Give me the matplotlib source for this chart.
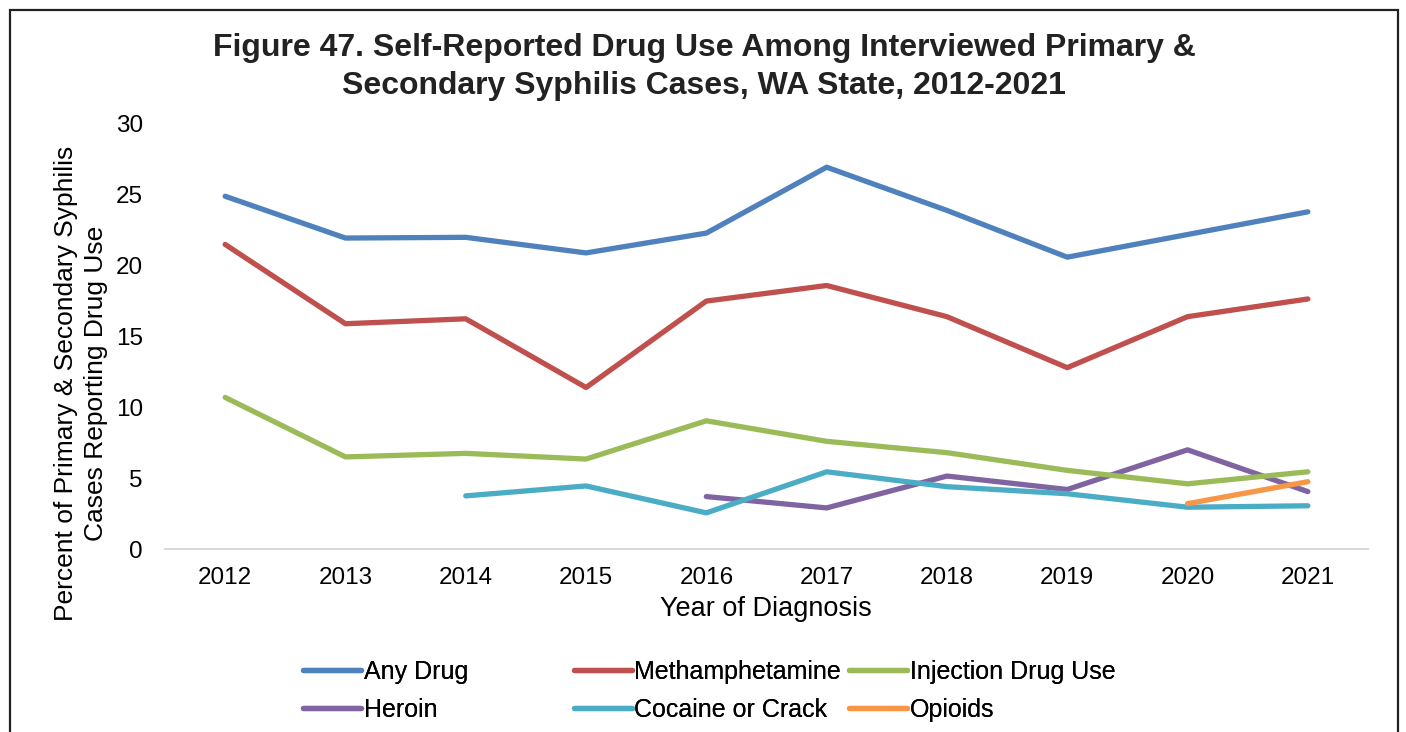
import matplotlib
matplotlib.use("Agg")
import matplotlib.pyplot as plt
from matplotlib.patches import Rectangle

plt.rcParams["font.family"] = ["Liberation Sans", "DejaVu Sans"]

# --- Data ---
years = ["2012", "2013", "2014", "2015", "2016", "2017", "2018", "2019", "2020", "2021"]
any_drug = [24.9, 21.95, 22.0, 20.9, 22.3, 26.95, 23.9, 20.6, 22.2, 23.8]
meth = [21.5, 15.9, 16.25, 11.4, 17.5, 18.6, 16.4, 12.8, 16.4, 17.65]
injection = [10.7, 6.5, 6.75, 6.35, 9.05, 7.6, 6.8, 5.55, 4.6, 5.45]
heroin = [None, None, None, None, 3.7, 2.9, 5.15, 4.2, 7.0, 4.05]
cocaine = [None, None, 3.75, 4.45, 2.55, 5.45, 4.4, 3.9, 2.95, 3.05]
opioids = [None, None, None, None, None, None, None, None, 3.2, 4.75]

series = [
    ("Any Drug", any_drug, "#4F81BD"),
    ("Heroin", heroin, "#8064A2"),
    ("Methamphetamine", meth, "#C0504D"),
    ("Cocaine or Crack", cocaine, "#4BACC6"),
    ("Injection Drug Use", injection, "#9BBB59"),
    ("Opioids", opioids, "#F79646"),
]

W, H = 1406, 732
fig = plt.figure(figsize=(W / 100, H / 100), dpi=100)
ax = fig.add_axes([165 / W, 1 - 549 / H, (1368 - 165) / W, (549 - 124) / H])

handles = {}
for name, vals, col in series:
    xs = [i for i, v in enumerate(vals) if v is not None]
    ys = [v for v in vals if v is not None]
    (h,) = ax.plot(xs, ys, color=col, lw=3.8, solid_capstyle="round",
                   solid_joinstyle="round", label=name)
    handles[name] = h

ax.set_xlim(-0.5, len(years) - 0.5)
ax.set_ylim(0, 30)
ax.set_xticks(range(len(years)))
ax.set_xticklabels(years)
ax.set_yticks(range(0, 31, 5))
ax.tick_params(axis="both", length=0, labelsize=17.5, colors="#000000")
ax.tick_params(axis="x", pad=13)
ax.tick_params(axis="y", pad=16)
for s in ["top", "right", "left"]:
    ax.spines[s].set_visible(False)
ax.spines["bottom"].set_color("#d9d9d9")
ax.spines["bottom"].set_linewidth(1.5)

# titles / labels
fig.text(704 / W, 1 - 48 / H, "Figure 47. Self-Reported Drug Use Among Interviewed Primary &",
         ha="center", va="center", fontsize=23, fontweight="bold", color="#222222")
fig.text(704 / W, 1 - 86 / H, "Secondary Syphilis Cases, WA State, 2012-2021",
         ha="center", va="center", fontsize=23, fontweight="bold", color="#222222")
fig.text(81 / W, 1 - 383 / H,
         "Percent of Primary & Secondary Syphilis\nCases Reporting Drug Use",
         rotation=90, ha="center", va="center", multialignment="center",
         fontsize=19, linespacing=1.3)
fig.text(766 / W, 1 - 609 / H, "Year of Diagnosis", ha="center", va="center", fontsize=19.5)

# legend: three columns of two entries each
cols = [("Any Drug", "Heroin"), ("Methamphetamine", "Cocaine or Crack"),
        ("Injection Drug Use", "Opioids")]
col_x = [303, 574, 849]
for x0, names in zip(col_x, cols):
    lg = fig.legend([handles[n] for n in names], names, loc="upper left",
                    bbox_to_anchor=(x0 / W, 1 - 660 / H), frameon=False,
                    fontsize=18, handlelength=2.3, handletextpad=0.12,
                    labelspacing=0.55, borderaxespad=0, borderpad=0)
    fig.add_artist(lg)

# outer frame
fig.add_artist(Rectangle((10 / W, -0.05), (1398 - 10) / W, 1 - 10 / H + 0.05,
                         transform=fig.transFigure, fill=False,
                         edgecolor="#222222", lw=1.6))

fig.savefig("out.png", dpi=100)
